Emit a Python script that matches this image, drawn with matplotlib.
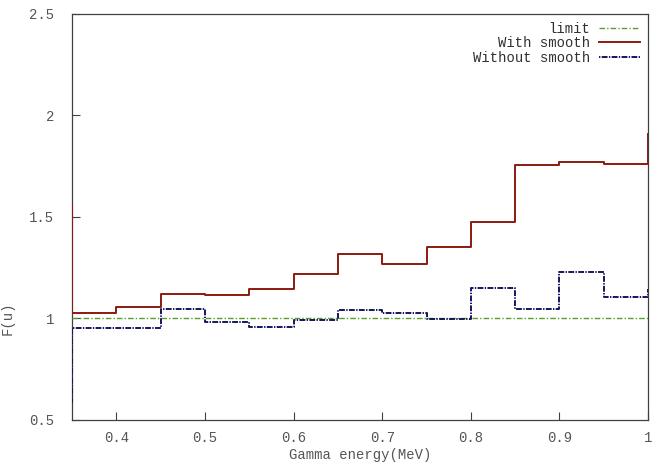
import matplotlib
matplotlib.use("Agg")
import matplotlib.pyplot as plt
import numpy as np

# energy grid (MeV), each value holds until the next grid point
energy = [0.30, 0.35, 0.40, 0.45, 0.50, 0.55, 0.60, 0.65, 0.70,
          0.75, 0.80, 0.85, 0.90, 0.95, 1.00]
with_smooth = [1.56, 1.025, 1.058, 1.12, 1.115, 1.145, 1.22, 1.316, 1.27,
               1.35, 1.474, 1.756, 1.772, 1.76, 1.91]
without_smooth = [0.59, 0.953, 0.953, 1.047, 0.98, 0.96, 0.99, 1.04, 1.025,
                  0.996, 1.15, 1.047, 1.23, 1.107, 1.145]
limit = 1.0

xticks = [0.4, 0.5, 0.6, 0.7, 0.8, 0.9, 1.0]
yticks = [0.5, 1.0, 1.5, 2.0, 2.5]

plt.rcParams['font.family'] = ['Liberation Mono', 'DejaVu Sans Mono']
text_col = '#555555'
fs = 10

fig = plt.figure(figsize=(6.54, 4.63), dpi=100)
ax = fig.add_axes([0.110, 0.093, 0.881, 0.877])

ax.plot([0.35, 1.0], [limit, limit], color='#5a9e2a', lw=1.0,
        dashes=(4, 1.5, 1, 1.5), label='limit', zorder=3)
ax.step(energy, with_smooth, where='post', color='#8b1a10', lw=1.4,
        label='With smooth', zorder=3)
ax.step(energy, without_smooth, where='post', color='#15155e', lw=1.4,
        dashes=(0.7, 0.7, 3, 0.7), label='Without smooth', zorder=3)

ax.set_xlim(0.35, 1.0)
ax.set_ylim(0.5, 2.5)
ax.set_xticks(xticks)
ax.set_xticklabels(['%g' % t for t in xticks])
ax.set_yticks(yticks)
ax.set_yticklabels(['%g' % t for t in yticks])

ax.tick_params(direction='in', length=6, width=0.8, colors='#404040',
               labelcolor=text_col, labelsize=fs, top=False, right=False)
ax.tick_params(axis='x', pad=8)
ax.tick_params(axis='y', pad=13)
for sp in ax.spines.values():
    sp.set_color('#404040')
    sp.set_linewidth(0.9)

ax.set_xlabel('Gamma energy(MeV)', color=text_col, fontsize=fs)
ax.set_ylabel('F(u)', color=text_col, fontsize=fs)
ax.xaxis.set_label_coords(0.5, -0.070)
ax.yaxis.set_label_coords(-0.099, 0.251)

leg = ax.legend(loc='upper right', markerfirst=False, frameon=False,
                fontsize=fs, handlelength=3.0, handletextpad=0.6,
                labelspacing=0.05, borderaxespad=0.15)
for t in leg.get_texts():
    t.set_color('#303030')

fig.savefig('out.png', dpi=100)
